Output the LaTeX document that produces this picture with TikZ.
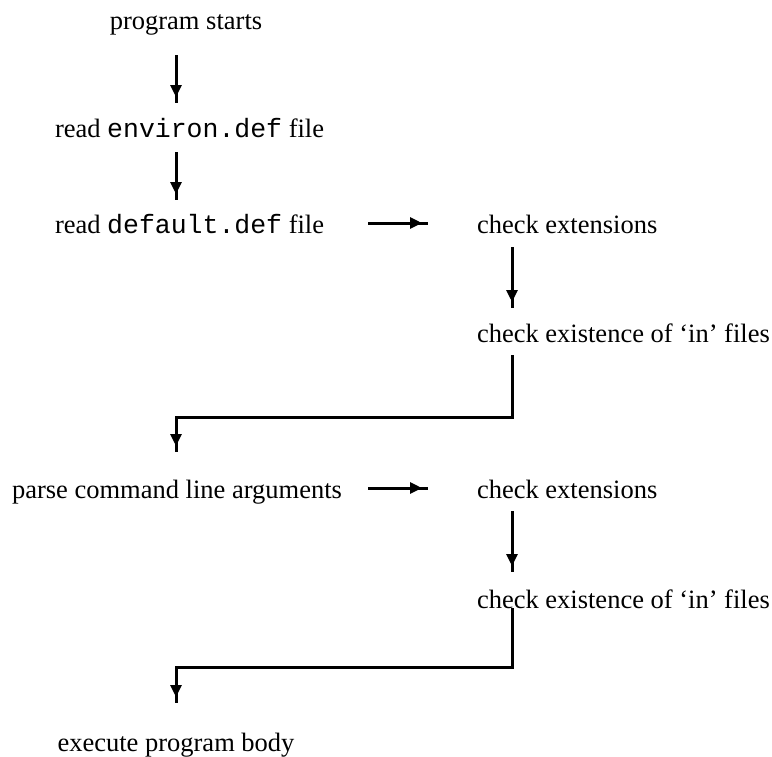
\documentclass[tikz,border=0pt]{standalone}
\usepackage{fontspec}
\setmainfont{Liberation Serif}
\setmonofont{Liberation Mono}
\usetikzlibrary{arrows.meta,calc,decorations.markings}
\tikzset{
  lbl/.style={inner sep=0pt, outer sep=0pt, font=\fontsize{13.25pt}{16pt}\selectfont},
  conn/.style={line width=1.5pt, postaction={decorate},
    decoration={markings, mark=at position -3pt with {\arrow{Triangle[length=6pt,width=5.5pt]}}}}
}
\begin{document}
\begin{tikzpicture}[x=0.5pt,y=-0.5pt]
\useasboundingbox (0,0) rectangle (772,756);
\coordinate (c1) at (176,0);
\coordinate (c2) at (512,0);
% nodes
\node[lbl, anchor=base] (ps) at (186,29) {program starts};
\node[lbl, anchor=base west] (re) at (55,137) {read \texttt{environ.def} file};
\node[lbl, anchor=base west] (rd) at (55,233) {read \texttt{default.def} file};
\node[lbl, anchor=base west] (ce1) at (477,233) {check extensions};
\node[lbl, anchor=base west] (cx1) at (477,342) {check existence of ‘in’ files};
\node[lbl, anchor=base west] (pc) at (12,498) {parse command line arguments};
\node[lbl, anchor=base west] (ce2) at (477,498) {check extensions};
\node[lbl, anchor=base west] (cx2) at (477,608) {check existence of ‘in’ files};
\node[lbl, anchor=base] (ex) at (176,751) {execute program body};
% connectors
\draw[conn] ($(ps.base -| c1)+(0,26)$) -- ($(re.base -| c1)+(0,-34)$);
\draw[conn] ($(re.base -| c1)+(0,15)$) -- ($(rd.base -| c1)+(0,-33)$);
\draw[conn] ($(rd.base -| c1)+(192,-10)$) -- ($(ce1.base west)+(-49,-10)$);
\draw[conn] ($(ce1.base -| c2)+(0,14)$) -- ($(cx1.base -| c2)+(0,-34)$);
\draw[conn] ($(cx1.base -| c2)+(0,13)$) |- ($(pc.base -| c1)+(0,-81)$) -- ($(pc.base -| c1)+(0,-46)$);
\draw[conn] ($(pc.base -| c1)+(192,-10)$) -- ($(ce2.base west)+(-49,-10)$);
\draw[conn] ($(ce2.base -| c2)+(0,13)$) -- ($(cx2.base -| c2)+(0,-36)$);
\draw[conn] ($(cx2.base -| c2)+(0,0)$) |- ($(ex.base -| c1)+(0,-84)$) -- ($(ex.base -| c1)+(0,-48)$);
\end{tikzpicture}
\end{document}
